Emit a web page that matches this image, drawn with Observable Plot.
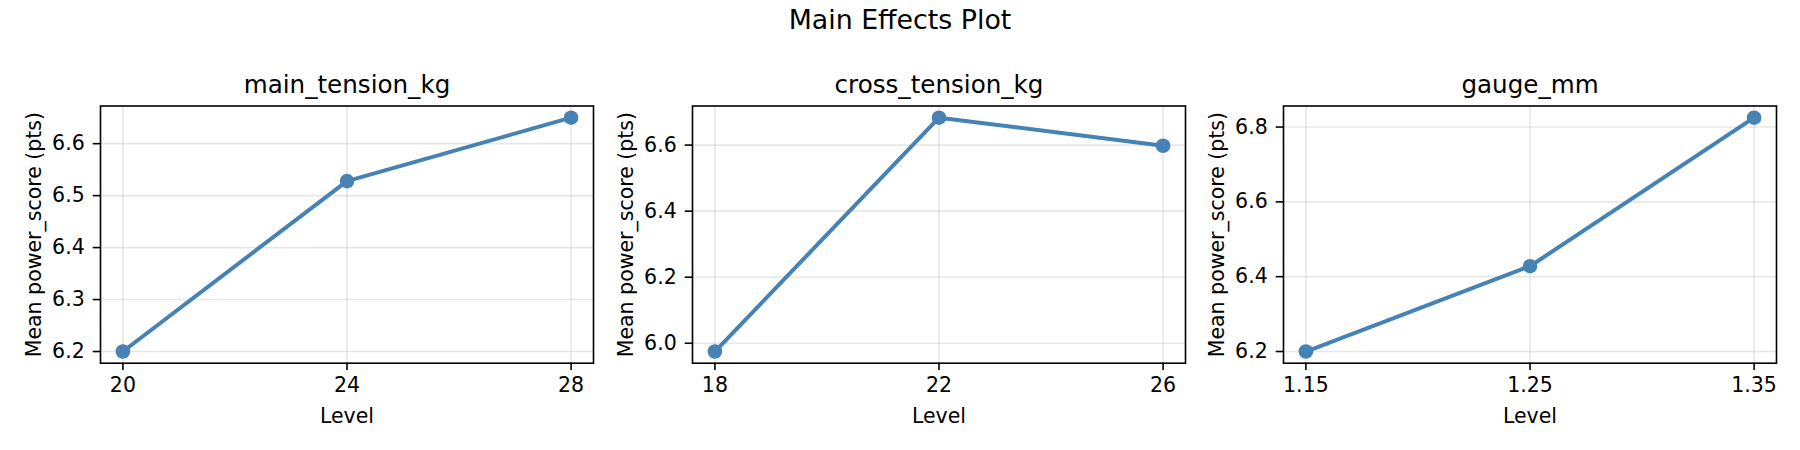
<!DOCTYPE html>
<html>
<head>
<meta charset="utf-8">
<script src="https://cdn.jsdelivr.net/npm/d3@7"></script>
<script src="https://cdn.jsdelivr.net/npm/@observablehq/plot@0.6"></script>
<style>
  html, body { margin: 0; padding: 0; background: white; }
  #fig { position: relative; width: 1800px; height: 450px; background: white; overflow: hidden; font-family: "DejaVu Sans", sans-serif; }
  #suptitle { position: absolute; left: 0; top: 6px; width: 1800px; text-align: center; font-size: 26.8px; line-height: 27px; color: black; }
  .panel { position: absolute; top: 0; }
</style>
</head>
<body>
<div id="fig">
  <div id="suptitle">Main Effects Plot</div>
</div>
<script>
// ---- data ----
const suptitle = "Main Effects Plot";
const factors = ["main_tension_kg", "cross_tension_kg", "gauge_mm"];
const yLabel = "Mean power_score (pts)";
const xLabel = "Level";

const mainLevels = [20, 24, 28];
const mainMeans = [6.200, 6.528, 6.650];
const mainXTickLabels = ["20", "24", "28"];
const mainYTicks = [6.2, 6.3, 6.4, 6.5, 6.6];

const crossLevels = [18, 22, 26];
const crossMeans = [5.975, 6.683, 6.598];
const crossXTickLabels = ["18", "22", "26"];
const crossYTicks = [6.0, 6.2, 6.4, 6.6];

const gaugeLevels = [1.15, 1.25, 1.35];
const gaugeMeans = [6.200, 6.428, 6.825];
const gaugeXTickLabels = ["1.15", "1.25", "1.35"];
const gaugeYTicks = [6.2, 6.4, 6.6, 6.8];

// ---- layout ----
const axesLefts = [100, 691.5, 1282.5];
const axesWidth = 493;
const axesTop = 105.5;
const axesBottom = 362.7;
const H = 450;
const ML = 100, MR = 10;
const color = "#4682b4";
const lw = 1.6;

function pad(lo, hi) {
  const r = hi - lo;
  return [lo - 0.05 * r, hi + 0.05 * r];
}

function panel(title, levels, means, xTickLabels, yTicks, left) {
  const data = levels.map((x, i) => ({x, y: means[i]}));
  const xDomain = pad(d3.min(levels), d3.max(levels));
  const yDomain = pad(d3.min(means), d3.max(means));
  const chart = Plot.plot({
    width: ML + axesWidth + MR,
    height: H,
    marginLeft: ML,
    marginRight: MR,
    marginTop: axesTop,
    marginBottom: H - axesBottom,
    x: {domain: xDomain},
    y: {domain: yDomain},
    style: {background: "transparent", fontFamily: "DejaVu Sans", color: "black", overflow: "visible"},
    marks: [
      Plot.gridX({ticks: levels, stroke: "#b0b0b0", strokeOpacity: 0.3, strokeWidth: lw}),
      Plot.gridY({ticks: yTicks, stroke: "#b0b0b0", strokeOpacity: 0.3, strokeWidth: lw}),
      Plot.line(data, {x: "x", y: "y", stroke: color, strokeWidth: 4}),
      Plot.dot(data, {x: "x", y: "y", r: 7.3, fill: color}),
      Plot.frame({stroke: "black", strokeWidth: lw}),
      Plot.axisX({ticks: levels, tickFormat: d => xTickLabels[levels.indexOf(d)], tickSize: 7.3, tickPadding: 7.2, fontSize: 20.5, strokeWidth: lw, label: null}),
      Plot.axisY({ticks: yTicks, tickFormat: d3.format(".1f"), tickSize: 7.3, tickPadding: 8.5, fontSize: 20.5, strokeWidth: lw, label: null}),
      Plot.text([title], {frameAnchor: "top", dy: -13, lineAnchor: "bottom", fontSize: 24.6, fill: "black"}),
      Plot.text([xLabel], {frameAnchor: "bottom", dy: 60, lineAnchor: "bottom", fontSize: 20.5, fill: "black"}),
      Plot.text([yLabel], {frameAnchor: "left", dx: -60, rotate: -90, lineAnchor: "bottom", textAnchor: "middle", fontSize: 20.5, fill: "black"})
    ]
  });
  chart.classList.add("panel");
  chart.style.left = (left - ML) + "px";
  chart.style.top = "0px";
  chart.style.position = "absolute";
  document.getElementById("fig").appendChild(chart);
}

document.getElementById("suptitle").textContent = suptitle;
panel(factors[0], mainLevels, mainMeans, mainXTickLabels, mainYTicks, axesLefts[0]);
panel(factors[1], crossLevels, crossMeans, crossXTickLabels, crossYTicks, axesLefts[1]);
panel(factors[2], gaugeLevels, gaugeMeans, gaugeXTickLabels, gaugeYTicks, axesLefts[2]);
</script>
</body>
</html>
